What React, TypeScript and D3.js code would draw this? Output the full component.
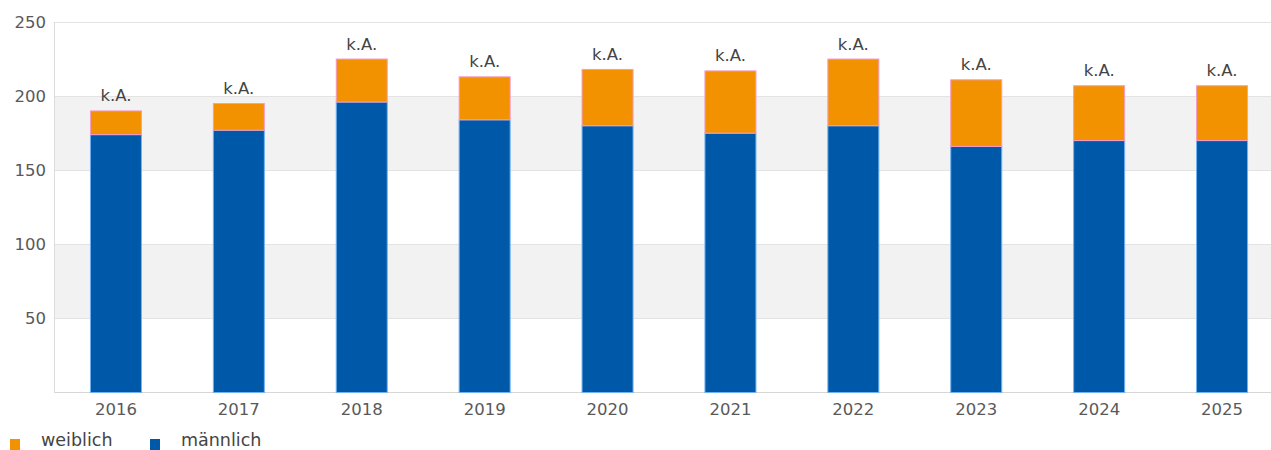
import React from "react";
import * as d3 from "d3";

const years = ["2016", "2017", "2018", "2019", "2020", "2021", "2022", "2023", "2024", "2025"];
const maennlich = [174, 177, 196, 184, 180, 175, 180, 166, 170, 170];
const weiblich = [16, 18, 29, 29, 38, 42, 45, 45, 37, 37];
const yTicks = [50, 100, 150, 200, 250];
const barLabel = "k.A.";
const legendItems = [
  { name: "weiblich", color: "#f39200" },
  { name: "männlich", color: "#0059a8" },
];

const W = 1271;
const H = 450;
const FONT = "'DejaVu Sans', Verdana, sans-serif";

export default function App() {
  const x = d3
    .scaleBand<string>()
    .domain(years)
    .range([54.5, 1283.5])
    .paddingInner(0.585)
    .paddingOuter(0.2925);
  const y = d3.scaleLinear().domain([0, 250]).range([392.5, 22]);
  const bands = [
    [50, 100],
    [150, 200],
  ];
  return (
    <svg width={W} height={H} style={{ position: "absolute", left: 0, top: 0, fontFamily: FONT }}>
      <rect x={0} y={0} width={W} height={H} fill="#ffffff" />
      {bands.map(([a, b], i) => (
        <rect key={i} x={54.5} y={y(b)} width={W - 54.5} height={y(a) - y(b)} fill="#f2f2f2" />
      ))}
      {yTicks.map((t) => (
        <g key={t}>
          <line x1={54.5} x2={W} y1={Math.round(y(t)) + 0.5} y2={Math.round(y(t)) + 0.5} stroke="#e3e3e3" strokeWidth={1} />
          <text x={46} y={y(t) + 6} textAnchor="end" fontSize={16.5} fill="#595959">
            {t}
          </text>
        </g>
      ))}
      <line x1={54.5} x2={54.5} y1={y(250)} y2={y(0)} stroke="#dcdcdc" />
      <line x1={54.5} x2={W} y1={392.5} y2={392.5} stroke="#d6d6d6" />
      {years.map((yr, i) => {
        const bx = x(yr)!;
        const bw = x.bandwidth();
        const m = maennlich[i];
        const f = weiblich[i];
        return (
          <g key={yr}>
            <rect x={bx} y={y(m)} width={bw} height={y(0) - y(m)} fill="#0059a8" stroke="#6fb2f2" strokeWidth={1} />
            <rect x={bx} y={y(m + f)} width={bw} height={y(m) - y(m + f)} fill="#f39200" stroke="#f59ac8" strokeWidth={1} />
            <text x={bx + bw / 2} y={y(m + f) - 9.5} textAnchor="middle" fontSize={16.5} fill="#444">
              {barLabel}
            </text>
            <text x={bx + bw / 2} y={415} textAnchor="middle" fontSize={16.5} fill="#595959">
              {yr}
            </text>
          </g>
        );
      })}
      {legendItems.map((it, i) => {
        const lx = [10, 150][i];
        return (
          <g key={it.name}>
            <rect x={lx} y={439} width={10} height={11} fill={it.color} />
            <text x={lx + 31} y={445.5} fontSize={17.5} fill="#444">
              {it.name}
            </text>
          </g>
        );
      })}
    </svg>
  );
}
